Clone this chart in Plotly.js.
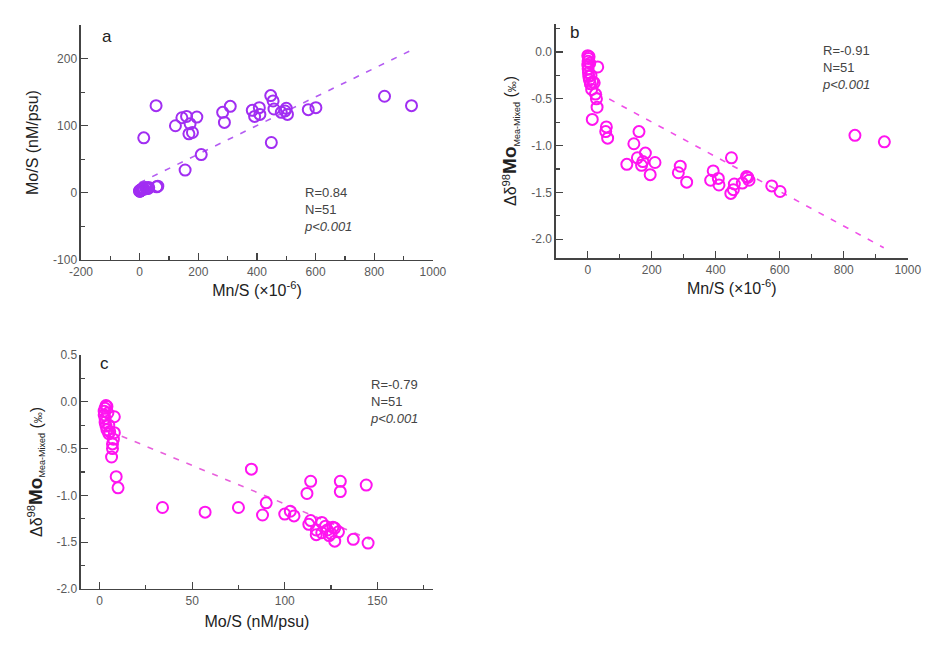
<!DOCTYPE html>
<html>
<head>
<meta charset="utf-8">
<script src="https://cdn.plot.ly/plotly-3.0.1.min.js"></script>
<style>
html, body { margin: 0; padding: 0; background: #fff; }
#gd { width: 931px; height: 645px; }
</style>
</head>
<body>
<div id="gd"></div>
<script>
// one entry per sample (51): Mn/S (x10^-6), Mo/S (nM/psu), delta98Mo meas-mixed (permil)
const mnS = [14, 56, 58, 62, 122, 144, 160, 172, 168, 180,
             195, 155, 210, 283, 289, 309, 384, 392, 408, 410,
             447, 455, 458, 449, 483, 500, 504, 496, 575, 601,
             835, 927,
             31, 27, 29, 24, 20, 12, 8, 5, 3, 2,
             1, 0, 1, 2, 0, 4, 6, 10, 15];
const moS = [82, 130, 9, 10, 100, 112, 114, 103, 88, 90,
             113, 34, 57, 120, 105, 129, 123, 114, 127, 117,
             145, 137, 125, 75, 120, 126, 117, 122, 124, 127,
             144, 130,
             8, 7, 6.5, 7, 8, 7.5, 5, 4, 3.5, 3,
             3, 2.5, 2.5, 3, 3.5, 4, 4.5, 5, 5.5];
const dMo = [-0.72, -0.85, -0.80, -0.92, -1.20, -0.98, -0.85, -1.17, -1.21, -1.08,
             -1.31, -1.13, -1.18, -1.29, -1.22, -1.39, -1.37, -1.27, -1.35, -1.42,
             -1.51, -1.47, -1.41, -1.13, -1.40, -1.34, -1.37, -1.33, -1.43, -1.49,
             -0.89, -0.96,
             -0.16, -0.50, -0.59, -0.45, -0.33, -0.40, -0.34, -0.30, -0.26, -0.22,
             -0.18, -0.14, -0.10, -0.07, -0.04, -0.05, -0.12, -0.25, -0.32];

// dashed regression lines, end points
const fitAx = [0, 928],  fitAy = [15, 213];
const fitBx = [-10, 925], fitBy = [-0.36, -2.09];
const fitCx = [5, 146],  fitCy = [-0.31, -1.47];

const statsA = ['R=0.84', 'N=51', '<i>p&lt;0.001</i>'];
const statsB = ['R=-0.91', 'N=51', '<i>p&lt;0.001</i>'];
const statsC = ['R=-0.79', 'N=51', '<i>p&lt;0.001</i>'];

// tick labels
const mnTicks = [-200, 0, 200, 400, 600, 800, 1000];
const moTicksA = [-100, 0, 100, 200];
const moTicksC = [0, 50, 100, 150];
const dTicksB = [-2.0, -1.5, -1.0, -0.5, 0.0];
const dTextB = ['-2.0', '-1.5', '-1.0', '-0.5', '0.0'];
const dTicksC = [-2.0, -1.5, -1.0, -0.5, 0.0, 0.5];
const dTextC = ['-2.0', '-1.5', '-1.0', '-0.5', '0.0', '0.5'];

const purple = '#a12ef2';
const magenta = '#ff14f0';
const axisCol = '#444';
const font = 'Liberation Sans, Arial, sans-serif';

function pts(x, y, col, xa, ya) {
  return {
    x: x, y: y, xaxis: xa, yaxis: ya, type: 'scatter', mode: 'markers',
    marker: { symbol: 'circle-open', size: 11, color: col, line: { width: 2, color: col } },
    hoverinfo: 'x+y'
  };
}
function fit(x, y, col, xa, ya) {
  return {
    x: x, y: y, xaxis: xa, yaxis: ya, type: 'scatter', mode: 'lines',
    line: { color: col, width: 1.6, dash: '6px,8px' }, hoverinfo: 'skip'
  };
}

const data = [
  fit(fitAx, fitAy, '#b45cf2', 'x', 'y'),
  pts(mnS, moS, purple, 'x', 'y'),
  fit(fitBx, fitBy, '#f050e8', 'x2', 'y2'),
  pts(mnS, dMo, magenta, 'x2', 'y2'),
  fit(fitCx, fitCy, '#e860dc', 'x3', 'y3'),
  pts(moS, dMo, magenta, 'x3', 'y3')
];

function minorTicks(step) {
  return { tickmode: 'linear', tick0: 0, dtick: step, ticks: 'inside', ticklen: 4, tickwidth: 1.2, tickcolor: axisCol };
}
function ax(extra) {
  const base = {
    showline: true, linecolor: axisCol, linewidth: 1.5, mirror: false,
    showgrid: false, zeroline: false,
    ticks: 'inside', ticklen: 7, tickwidth: 1.2, tickcolor: axisCol,
    tickfont: { family: font, size: 12, color: '#5a5a5a' }
  };
  return Object.assign(base, extra);
}
function ttl(text, standoff) {
  return { text: text, standoff: standoff, font: { family: font, size: 16, color: '#222' } };
}

const dTitle = 'Δδ<sup>98</sup><span style="font-size:19px"><b>Mo</b></span>' +
               '<sub><span style="font-size:9px">Mea-Mixed</span></sub> (<span style="font-size:11px">‰</span>)';

const layout = {
  width: 931, height: 645,
  margin: { l: 0, r: 0, t: 0, b: 0 },
  paper_bgcolor: '#fff', plot_bgcolor: '#fff',
  showlegend: false,
  font: { family: font },
  xaxis: ax({
    domain: [0.087, 0.465], anchor: 'y', range: [-200, 1000],
    tickmode: 'array', tickvals: mnTicks, ticktext: mnTicks.map(String),
    minor: minorTicks(100),
    title: ttl('Mn/S (×10<sup>-6</sup>)', 3)
  }),
  yaxis: ax({
    domain: [0.597, 0.961], anchor: 'x', range: [-100, 250],
    tickmode: 'array', tickvals: moTicksA, ticktext: moTicksA.map(String),
    minor: minorTicks(50),
    title: ttl('Mo/S (nM/psu)', 10)
  }),
  xaxis2: ax({
    domain: [0.597, 0.975], anchor: 'y2', range: [-100, 1000],
    tickmode: 'array', tickvals: mnTicks.slice(1), ticktext: mnTicks.slice(1).map(String),
    minor: minorTicks(100),
    title: ttl('Mn/S (×10<sup>-6</sup>)', 4)
  }),
  yaxis2: ax({
    domain: [0.6, 0.963], anchor: 'x2', range: [-2.2, 0.3],
    tickmode: 'array', tickvals: dTicksB, ticktext: dTextB,
    minor: minorTicks(0.25),
    title: ttl(dTitle, 10)
  }),
  xaxis3: ax({
    domain: [0.087, 0.465], anchor: 'y3', range: [-10, 180],
    tickmode: 'array', tickvals: moTicksC, ticktext: moTicksC.map(String),
    minor: minorTicks(25),
    title: ttl('Mo/S (nM/psu)', 9)
  }),
  yaxis3: ax({
    domain: [0.087, 0.4496], anchor: 'x3', range: [-2.0, 0.5],
    tickmode: 'array', tickvals: dTicksC, ticktext: dTextC,
    minor: minorTicks(0.25),
    title: ttl(dTitle, 10)
  }),
  annotations: [
    { xref: 'x domain', yref: 'y domain', x: 0.054, y: 0.95, text: 'a', showarrow: false,
      xanchor: 'left', yanchor: 'middle', font: { family: font, size: 17, color: '#222' } },
    { xref: 'x2 domain', yref: 'y2 domain', x: 0.034, y: 0.962, text: 'b', showarrow: false,
      xanchor: 'left', yanchor: 'middle', font: { family: font, size: 17, color: '#222' } },
    { xref: 'x3 domain', yref: 'y3 domain', x: 0.048, y: 0.962, text: 'c', showarrow: false,
      xanchor: 'left', yanchor: 'middle', font: { family: font, size: 17, color: '#222' } },
    { xref: 'x domain', yref: 'y domain', x: 0.628, y: 0.213, text: statsA.join('<br>'), showarrow: false,
      align: 'left', xanchor: 'left', yanchor: 'middle', font: { family: font, size: 13, color: '#444' } },
    { xref: 'x2 domain', yref: 'y2 domain', x: 0.75, y: 0.812, text: statsB.join('<br>'), showarrow: false,
      align: 'left', xanchor: 'left', yanchor: 'middle', font: { family: font, size: 13, color: '#444' } },
    { xref: 'x3 domain', yref: 'y3 domain', x: 0.815, y: 0.803, text: statsC.join('<br>'), showarrow: false,
      align: 'left', xanchor: 'left', yanchor: 'middle', font: { family: font, size: 13, color: '#444' } }
  ]
};

Plotly.newPlot('gd', data, layout, { displayModeBar: false, staticPlot: true });
</script>
</body>
</html>
